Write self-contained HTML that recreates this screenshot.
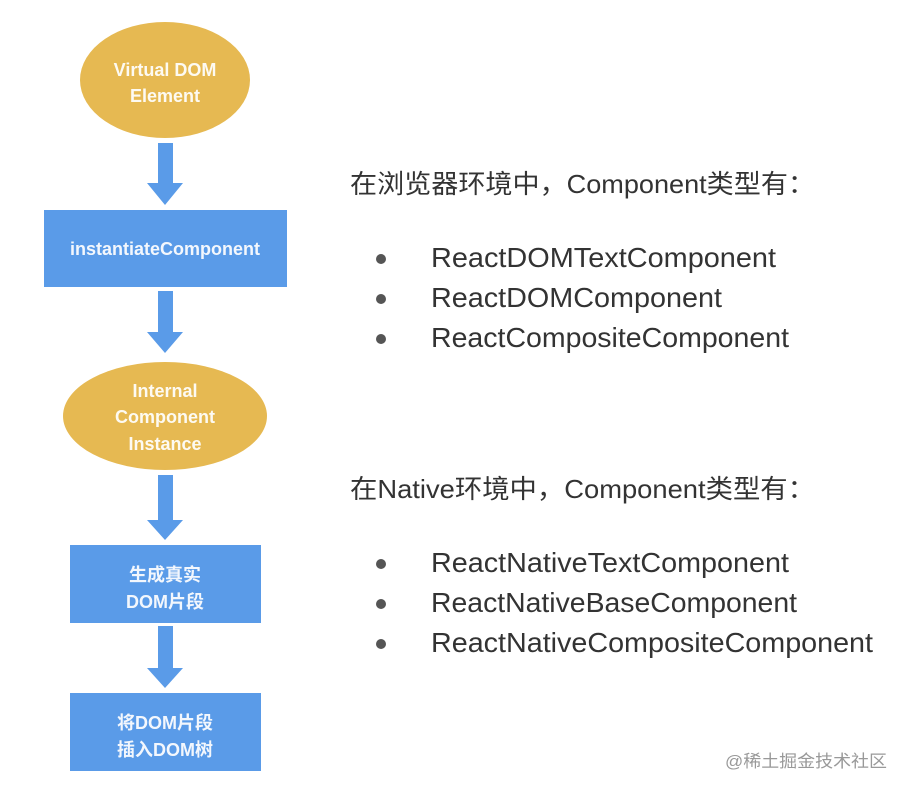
<!DOCTYPE html>
<html><head><meta charset="utf-8"><style>
body{margin:0;background:#fff;}
svg text{font-family:"Liberation Sans","Noto Sans CJK SC",sans-serif;}
</style></head><body>
<svg width="908" height="794" xmlns="http://www.w3.org/2000/svg">
<rect width="908" height="794" fill="#fff"/>
<g fill="#e6b952">
<ellipse cx="165" cy="80" rx="85" ry="58"/>
<ellipse cx="165" cy="416" rx="102" ry="54"/>
</g>
<g fill="#5a9be8">
<rect x="44" y="210" width="243" height="77"/>
<rect x="70" y="545" width="191" height="78"/>
<rect x="70" y="693" width="191" height="78"/>
<path d="M158 143H173V183H183L165 205L147 183H158Z"/>
<path d="M158 291H173V332H183L165 353L147 332H158Z"/>
<path d="M158 475H173V520H183L165 540L147 520H158Z"/>
<path d="M158 626H173V668H183L165 688L147 668H158Z"/>
</g>
<g fill="#fff" font-size="18" font-weight="bold" text-anchor="middle" opacity="0.93">
<text x="165" y="76">Virtual DOM</text>
<text x="165" y="102">Element</text>
<text x="165" y="255">instantiateComponent</text>
<text x="165" y="397">Internal</text>
<text x="165" y="423">Component</text>
<text x="165" y="450">Instance</text>
<text x="165" y="581">生成真实</text>
<text x="165" y="608">DOM片段</text>
<text x="165" y="729">将DOM片段</text>
<text x="165" y="756">插入DOM树</text>
</g>
<g fill="#333" font-size="28">
<text x="350" y="193" font-size="26" textLength="465" lengthAdjust="spacingAndGlyphs">在浏览器环境中，Component类型有：</text>
<text x="350" y="498" font-size="26" textLength="465" lengthAdjust="spacingAndGlyphs">在Native环境中，Component类型有：</text>
<text x="431" y="267" textLength="345" lengthAdjust="spacingAndGlyphs">ReactDOMTextComponent</text>
<text x="431" y="307" textLength="291" lengthAdjust="spacingAndGlyphs">ReactDOMComponent</text>
<text x="431" y="347" textLength="358" lengthAdjust="spacingAndGlyphs">ReactCompositeComponent</text>
<text x="431" y="572" textLength="358" lengthAdjust="spacingAndGlyphs">ReactNativeTextComponent</text>
<text x="431" y="612" textLength="366" lengthAdjust="spacingAndGlyphs">ReactNativeBaseComponent</text>
<text x="431" y="652" textLength="442" lengthAdjust="spacingAndGlyphs">ReactNativeCompositeComponent</text>
</g>
<g fill="#555">
<circle cx="381" cy="259" r="5"/><circle cx="381" cy="299" r="5"/><circle cx="381" cy="339" r="5"/>
<circle cx="381" cy="564" r="5"/><circle cx="381" cy="604" r="5"/><circle cx="381" cy="644" r="5"/>
</g>
<text x="725" y="767" font-size="17" fill="#999" textLength="162" lengthAdjust="spacingAndGlyphs">@稀土掘金技术社区</text>
</svg>
</body></html>
